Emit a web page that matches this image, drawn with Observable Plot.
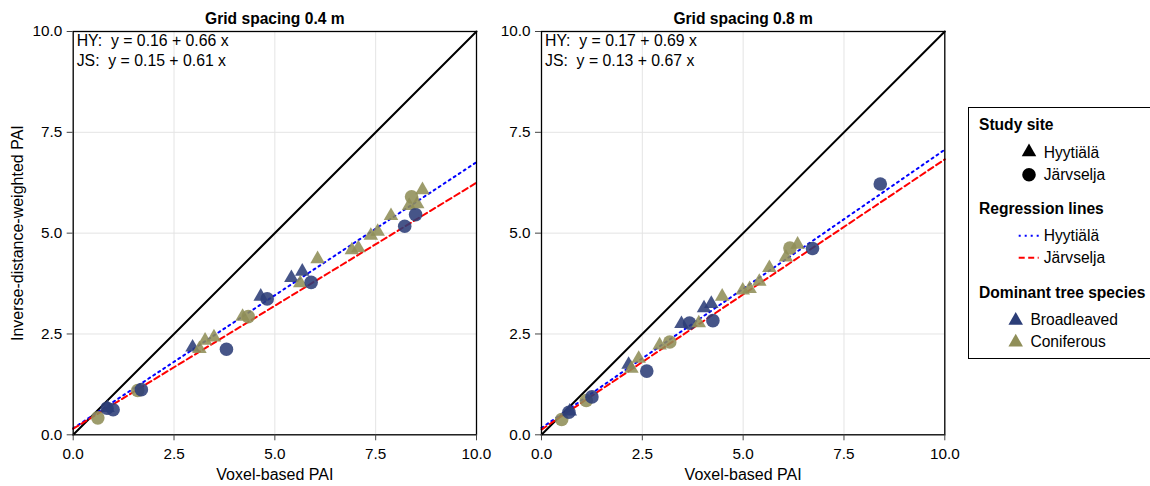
<!DOCTYPE html>
<html>
<head>
<meta charset="utf-8">
<script src="https://cdn.jsdelivr.net/npm/d3@7"></script>
<script src="https://cdn.jsdelivr.net/npm/@observablehq/plot@0.6"></script>
<style>
  html, body { margin: 0; padding: 0; background: #fff; }
  #root { position: relative; width: 1150px; height: 486px; overflow: hidden; font-family: "Liberation Sans", Arial, Helvetica, sans-serif; }
  #root svg text { white-space: pre; }
  .panel { position: absolute; top: 0; }
</style>
</head>
<body>
<div id="root"></div>
<script>
// ---------- data ----------
const panelTitles = ["Grid spacing 0.4 m", "Grid spacing 0.8 m"];
const axisDomain = [0, 10];
const tickValues = [0, 2.5, 5, 7.5, 10];
const xLabel = "Voxel-based PAI";
const yLabel = "Inverse-distance-weighted PAI";

// Grid spacing 0.4 m
const x04 = [0.61,0.84,0.85,0.99,1.60,1.69,2.96,3.13,3.27,3.49,3.80,4.20,4.34,4.65,4.81,5.41,5.68,5.63,5.90,6.06,6.91,7.07,7.38,7.55,7.88,8.22,8.33,8.39,8.49,8.53,8.66];
const y04 = [0.42,0.66,0.67,0.62,1.10,1.12,2.17,2.13,2.34,2.42,2.12,2.93,2.93,3.43,3.37,3.89,4.05,3.76,3.78,4.36,4.58,4.63,4.94,5.04,5.43,5.17,5.68,5.90,5.46,5.72,6.07];
const site04 = ["JS","JS","HY","JS","JS","JS","HY","HY","HY","HY","JS","HY","JS","HY","JS","HY","HY","HY","JS","HY","HY","HY","HY","HY","HY","JS","HY","JS","JS","HY","HY"];
const species04 = ["C","B","B","B","C","B","B","C","C","C","B","C","C","B","B","B","B","C","B","C","C","C","C","C","C","B","C","C","B","C","C"];

// Grid spacing 0.8 m
const x08 = [0.50,0.68,0.70,1.11,1.25,2.16,2.23,2.41,2.61,2.93,3.18,3.47,3.67,3.90,4.03,4.21,4.25,4.48,4.99,5.16,5.40,5.65,6.06,6.16,6.35,6.72,8.40];
const y08 = [0.38,0.56,0.58,0.85,0.94,1.74,1.64,1.89,1.58,2.22,2.30,2.75,2.77,2.77,3.14,3.25,2.83,3.43,3.58,3.62,3.80,4.14,4.40,4.63,4.72,4.62,6.22];
const site08 = ["JS","JS","HY","JS","JS","HY","HY","HY","JS","HY","JS","HY","JS","HY","HY","HY","JS","HY","HY","HY","HY","HY","HY","JS","HY","JS","JS"];
const species08 = ["C","B","B","C","B","B","C","C","B","C","C","B","B","C","B","B","B","C","C","C","C","C","C","C","C","B","B"];

// regression lines (intercept, slope) per panel
const regSites = ["HY", "JS"];
const regIntercept04 = [0.16, 0.15];
const regSlope04 = [0.66, 0.61];
const regIntercept08 = [0.17, 0.13];
const regSlope08 = [0.69, 0.67];

// legend
const siteNames = {HY: "Hyytiälä", JS: "Järvselja"};
const speciesNames = {B: "Broadleaved", C: "Coniferous"};
const legendTitles = ["Study site", "Regression lines", "Dominant tree species"];

// ---------- styling ----------
const speciesColor = {B: "#2c3e78", C: "#8f8e58"};
const regColor = {HY: "#0000ff", JS: "#ff0000"};
const regDash = {HY: "2,4", JS: "6,3.5"};
const FONT = "'Liberation Sans', Arial, Helvetica, sans-serif";
const R_CIRCLE = 6.8, R_TRI = 5.4;

function rows(xs, ys, sites, species) {
  return xs.map((x, i) => ({x, y: ys[i], site: sites[i], species: species[i]}));
}

function makePanel(idx, data, ints, slopes, opts) {
  const regData = regSites.flatMap((s, i) =>
    axisDomain.map(x => ({site: s, x, y: ints[i] + slopes[i] * x})));
  const ident = axisDomain.map(x => ({x, y: x}));
  const eqLines = regSites.map((s, i) => `${s}:  y = ${ints[i].toFixed(2)} + ${slopes[i].toFixed(2)} x`);
  return Plot.plot({
    width: 480, height: 486,
    marginLeft: opts.ml, marginRight: opts.mr, marginTop: 31, marginBottom: 51.7,
    x: {domain: axisDomain},
    y: {domain: axisDomain},
    style: {fontFamily: FONT, fontSize: "15.3px", color: "#000", background: "transparent", overflow: "visible"},
    marks: [
      Plot.gridX(tickValues, {stroke: "#e4e4e4", strokeOpacity: 1, strokeWidth: 1}),
      Plot.gridY(tickValues, {stroke: "#e4e4e4", strokeOpacity: 1, strokeWidth: 1}),
      Plot.line(ident, {x: "x", y: "y", stroke: "#000", strokeWidth: 2}),
      ...regSites.map(s => Plot.line(regData.filter(d => d.site === s), {
        x: "x", y: "y", stroke: regColor[s], strokeWidth: 2, strokeDasharray: regDash[s]
      })),
      ...data.map(d => Plot.dot([d], {
        x: "x", y: "y",
        symbol: d.site === "HY" ? "triangle" : "circle",
        r: d.site === "HY" ? R_TRI : R_CIRCLE,
        fill: speciesColor[d.species], fillOpacity: 0.88, stroke: "none"
      })),
      Plot.frame({stroke: "#000", strokeWidth: 1.3}),
      Plot.axisX(tickValues, {
        tickFormat: d3.format(".1f"), tickSize: 6, tickPadding: 7, stroke: "#444", label: null
      }),
      Plot.axisY(tickValues, {
        tickFormat: d3.format(".1f"), tickSize: 6, tickPadding: 5, stroke: "#444", label: null
      }),
      Plot.text([xLabel], {
        text: d => d, frameAnchor: "bottom", lineAnchor: "bottom", dy: 44.7, fontSize: 16
      }),
      ...(opts.ylabel ? [Plot.text([yLabel], {
        text: d => d, frameAnchor: "left", textAnchor: "middle", lineAnchor: "top",
        rotate: -90, dx: -61.5, fontSize: 16
      })] : []),
      Plot.text([panelTitles[idx]], {
        text: d => d, frameAnchor: "top", lineAnchor: "bottom", dy: -8,
        fontWeight: "bold", fontSize: 15.6
      }),
      ...eqLines.map((t, i) => Plot.text([t], {
        text: d => d, frameAnchor: "top-left", textAnchor: "start", lineAnchor: "top",
        dx: 3.5, dy: 3.5 + i * 20, fontSize: 15.8
      }))
    ]
  });
}

const root = document.getElementById("root");
const p1 = makePanel(0, rows(x04, y04, site04, species04), regIntercept04, regSlope04, {ml: 72.7, mr: 4, ylabel: true});
const p2 = makePanel(1, rows(x08, y08, site08, species08), regIntercept08, regSlope08, {ml: 71, mr: 5.7, ylabel: false});
p1.classList.add("panel"); p1.style.left = "0px";
p2.classList.add("panel"); p2.style.left = "470px";
root.appendChild(p1);
root.appendChild(p2);

// ---------- legend ----------
const lg = d3.select(root).append("svg")
  .attr("width", 200).attr("height", 254)
  .style("position", "absolute").style("left", "968px").style("top", "107px")
  .style("font-family", FONT).style("font-size", "15.6px");
lg.append("rect").attr("x", 0.5).attr("y", 0.5).attr("width", 240).attr("height", 251)
  .attr("fill", "#fff").attr("stroke", "#000").attr("stroke-width", 1);

const headerY = [23.2, 107.2, 190.9];
legendTitles.forEach((t, i) => lg.append("text").attr("x", 11).attr("y", headerY[i])
  .attr("font-weight", "bold").attr("font-size", 15.6).text(t));

const triPath = d3.symbol(d3.symbolTriangle, R_TRI * R_TRI * Math.PI)();
const circPath = d3.symbol(d3.symbolCircle, R_CIRCLE * R_CIRCLE * Math.PI)();

// study site
regSites.forEach((s, i) => {
  const cy = [45, 67.7][i];
  lg.append("path").attr("d", s === "HY" ? triPath : circPath)
    .attr("transform", `translate(61,${cy})`).attr("fill", "#000");
  lg.append("text").attr("x", 75.7).attr("y", cy + 5.5).text(siteNames[s]);
});
// regression lines
regSites.forEach((s, i) => {
  const cy = [128.7, 150.7][i];
  lg.append("line").attr("x1", 50.7).attr("x2", 70.7).attr("y1", cy).attr("y2", cy)
    .attr("stroke", regColor[s]).attr("stroke-width", 2).attr("stroke-dasharray", regDash[s]);
  lg.append("text").attr("x", 75.7).attr("y", cy + 5.5).text(siteNames[s]);
});
// species
["B", "C"].forEach((s, i) => {
  const cy = [213.5, 235.2][i];
  lg.append("path").attr("d", triPath)
    .attr("transform", `translate(47.7,${cy})`).attr("fill", speciesColor[s]);
  lg.append("text").attr("x", 62.4).attr("y", cy + 4.7).text(speciesNames[s]);
});
</script>
</body>
</html>
